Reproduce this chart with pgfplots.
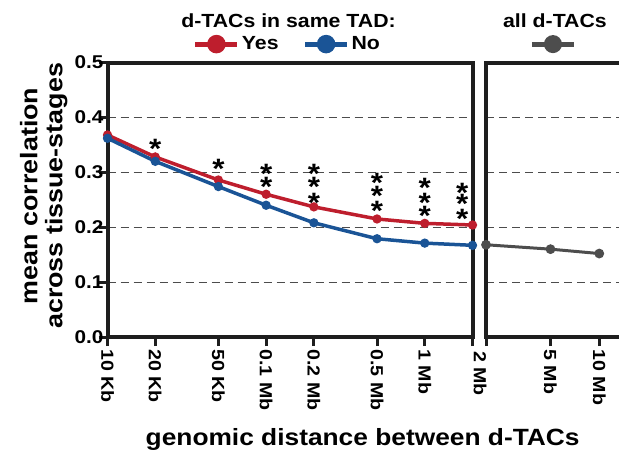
\documentclass[border=0pt]{standalone}
\usepackage{pgfplots}
\pgfplotsset{compat=1.18}
\usepackage{fontspec}
\setmainfont{Liberation Sans}[FakeStretch=1.12]
\definecolor{myred}{RGB}{190,30,45}
\definecolor{myblue}{RGB}{26,84,150}
\definecolor{mygray}{RGB}{77,77,77}
\definecolor{framecol}{RGB}{30,30,30}
\pgfplotsset{
  every axis/.append style={
    scale only axis, xmode=log, ymin=0, ymax=0.5, height=274.5pt,
    ytick={0,0.1,0.2,0.3,0.4,0.5},
    xminorticks=false, yminorticks=false,
    axis line style={line width=4pt, framecol},
    ymajorgrids,
    major grid style={dash pattern=on 8pt off 5pt, line width=1.2pt, black!70},
    tick style={line width=3pt, framecol},
    major tick length=9pt,
    tick align=outside,
    xtick pos=bottom, ytick pos=left,
    xticklabel style={rotate=-90, anchor=west, font=\bfseries\fontsize{17.5}{17.5}\selectfont},
    yticklabel style={font=\bfseries\fontsize{18.5}{18.5}\selectfont, xshift=8.5pt},
    clip=false,
    legend columns=2,
    legend image code/.code={\draw[line width=5pt] (0pt,0pt) -- (42pt,0pt); \fill (21pt,0pt) circle (7.5pt);},
  },
}
\tikzset{st/.style={font=\bfseries\fontsize{28}{28}\selectfont, inner sep=0pt, anchor=center, yshift=-6pt}}
\begin{document}
\begin{tikzpicture}
\useasboundingbox (0,0) rectangle (619pt,456pt);
\begin{axis}[at={(107.5pt,119pt)}, anchor=south west, width=365pt,
  xmin=1e4, xmax=2e6,
  xtick={1e4,2e4,5e4,1e5,2e5,5e5,1e6,2e6},
  xticklabels={10 Kb,20 Kb,50 Kb,0.1 Mb,0.2 Mb,0.5 Mb,1 Mb,},
  yticklabels={0.0,0.1,0.2,0.3,0.4,0.5},
  xlabel={genomic distance between d-TACs},
  xlabel style={at={(axis description cs:0.699,-0.372)}, anchor=center, font=\bfseries\fontsize{23.5}{23.5}\selectfont},
  ylabel={mean correlation\\across tissue-stages},
  ylabel style={at={(axis description cs:-0.175,0.514)}, anchor=center, align=center, font=\bfseries\fontsize{24}{25}\selectfont},
  legend style={at={(axis description cs:0.493,1.067)}, anchor=center, draw=none, fill=none,
    font=\bfseries\fontsize{19}{19}\selectfont,
    /tikz/every even column/.append style={column sep=22pt}},
]
\addplot[color=myred, line width=3.5pt, mark=*, mark size=2.8pt] coordinates {
(1e4,0.368) (2e4,0.328) (5e4,0.286) (1e5,0.260) (2e5,0.237) (5e5,0.215) (1e6,0.207) (2e6,0.204)};
\addlegendentry{Yes}
\addplot[color=myblue, line width=3.5pt, mark=*, mark size=2.8pt] coordinates {
(1e4,0.362) (2e4,0.320) (5e4,0.274) (1e5,0.240) (2e5,0.208) (5e5,0.179) (1e6,0.171) (2e6,0.167)};
\addlegendentry{No}
\node[font=\bfseries\fontsize{19}{19}\selectfont, anchor=base] at (axis description cs:0.496,1.126) {d-TACs in same TAD:};
\node[st] at (axis cs:2e4,0.353) {*};
\node[st] at (axis cs:5e4,0.317) {*};
\node[st] at (axis cs:1e5,0.308) {*};
\node[st] at (axis cs:1e5,0.284) {*};
\node[st] at (axis cs:2e5,0.308) {*};
\node[st] at (axis cs:2e5,0.284) {*};
\node[st] at (axis cs:2e5,0.255) {*};
\node[st] at (axis cs:5e5,0.291) {*};
\node[st] at (axis cs:5e5,0.268) {*};
\node[st] at (axis cs:5e5,0.240) {*};
\node[st] at (axis cs:1e6,0.282) {*};
\node[st] at (axis cs:1e6,0.255) {*};
\node[st] at (axis cs:1e6,0.231) {*};
\node[st] at (axis cs:1.72e6,0.273) {*};
\node[st] at (axis cs:1.72e6,0.253) {*};
\node[st] at (axis cs:1.72e6,0.226) {*};
\end{axis}
\begin{axis}[at={(486pt,119pt)}, anchor=south west, width=154.6pt,
  xmin=2e6, xmax=1.8e7,
  xtick={2e6,5e6,1e7},
  xticklabels={,5 Mb,10 Mb},
  yticklabels={},
  ytick style={draw=none},
  legend style={at={(axis description cs:0.446,1.067)}, anchor=center, draw=none, fill=none,
    font=\bfseries\fontsize{19}{19}\selectfont},
]
\addplot[color=mygray, line width=3pt, mark=*, mark size=3.3pt] coordinates {
(2e6,0.168) (5e6,0.160) (1e7,0.152)};
\addlegendentry{}
\node[font=\bfseries\fontsize{19}{19}\selectfont, anchor=base] at (axis description cs:0.446,1.126) {all d-TACs};
\node[rotate=-90, anchor=west, inner sep=0pt, font=\bfseries\fontsize{17.5}{17.5}\selectfont] at ([xshift=-6pt,yshift=-14pt]axis cs:2e6,0) {2 Mb};
\end{axis}
\end{tikzpicture}
\end{document}
